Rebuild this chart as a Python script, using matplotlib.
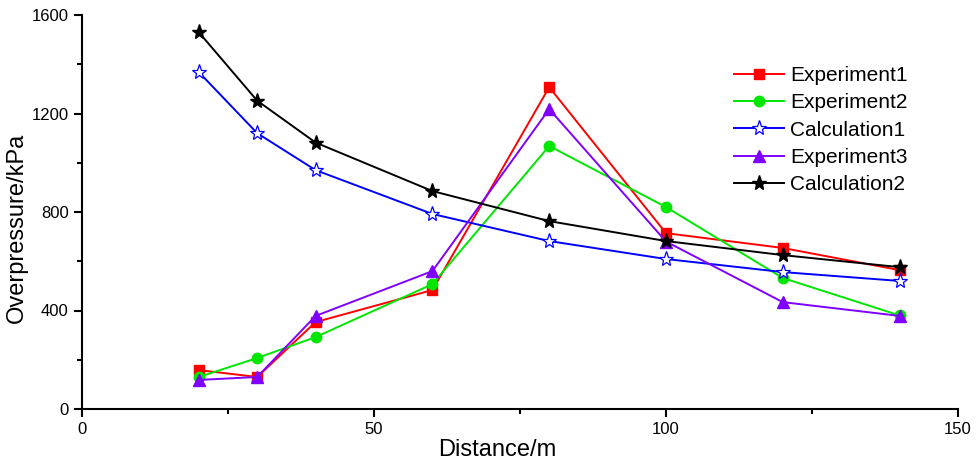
import matplotlib
matplotlib.use("Agg")
import matplotlib.pyplot as plt
from matplotlib.ticker import MultipleLocator

plt.rcParams['font.family'] = ['Liberation Sans', 'DejaVu Sans']

distance = [20, 30, 40, 60, 80, 100, 120, 140]
experiment1 = [158, 130, 353, 483, 1307, 714, 654, 564]
experiment2 = [130, 207, 292, 507, 1068, 820, 532, 380]
calculation1 = [1368, 1120, 970, 792, 682, 609, 556, 520]
experiment3 = [118, 130, 378, 560, 1218, 680, 434, 378]
calculation2 = [1530, 1252, 1082, 885, 763, 682, 625, 576]

fig = plt.figure(figsize=(9.78, 4.63), dpi=100)
ax = fig.add_axes([82/978, 1-409/463, (958-82)/978, (409-15)/463])

lw = 1.4
ax.plot(distance, experiment1, color='#FF0000', marker='s', ms=7, lw=lw, label='Experiment1')
ax.plot(distance, experiment2, color='#00E600', marker='o', ms=7.5, lw=lw, label='Experiment2')
ax.plot(distance, calculation1, color='#0000FF', marker='*', ms=11, mfc='white', mew=0.9, lw=lw, label='Calculation1')
ax.plot(distance, experiment3, color='#8000FF', marker='^', ms=9, lw=lw, label='Experiment3')
ax.plot(distance, calculation2, color='black', marker='*', ms=11, lw=lw, label='Calculation2')

ax.set_xlim(0, 150)
ax.set_ylim(0, 1600)
ax.xaxis.set_major_locator(MultipleLocator(50))
ax.xaxis.set_minor_locator(MultipleLocator(25))
ax.yaxis.set_major_locator(MultipleLocator(400))
ax.yaxis.set_minor_locator(MultipleLocator(200))
ax.tick_params(which='both', direction='out', width=1.5, labelsize=12)
ax.tick_params(which='major', length=6)
ax.tick_params(which='minor', length=3.5)
for s in ['top', 'right']:
    ax.spines[s].set_visible(False)
for s in ['left', 'bottom']:
    ax.spines[s].set_linewidth(1.5)

ax.set_xlabel('Distance/m', fontsize=17)
ax.set_ylabel('Overpressure/kPa', fontsize=17)
ax.xaxis.set_label_coords(0.474, -0.075)
ax.yaxis.set_label_coords(-0.062, 0.46)

leg = ax.legend(loc='upper left', bbox_to_anchor=(734/978, 1-66/463), bbox_transform=fig.transFigure,
                frameon=False, fontsize=15, handlelength=2.4, handletextpad=0.3,
                labelspacing=0.4, borderpad=0, borderaxespad=0)

fig.savefig('out.png', dpi=100)
